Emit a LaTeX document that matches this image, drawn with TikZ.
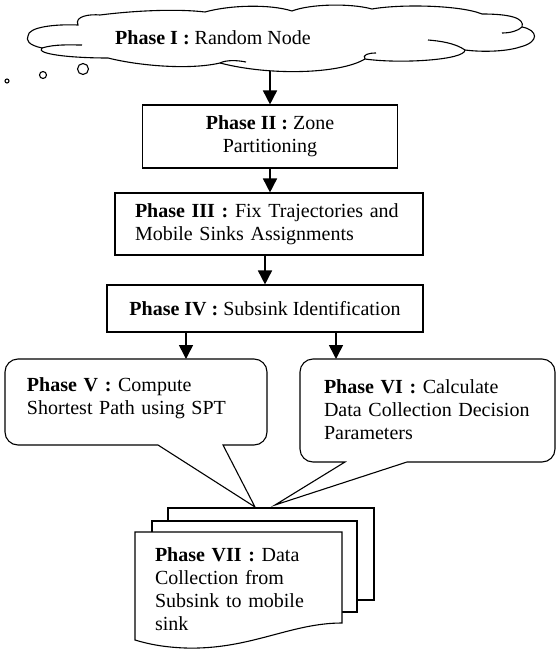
\documentclass[tikz,border=0pt]{standalone}
\usepackage{fontspec}
\setmainfont{Liberation Serif}
\usetikzlibrary{arrows.meta}

\tikzset{
  phase/.style={draw,line width=1.1pt,inner ysep=0pt},
  flow/.style={line width=1.6pt,-{Triangle[length=14pt,width=14pt]}},
  sheet/.style={draw,fill=white,line width=1.1pt}
}

\begin{document}
\begin{tikzpicture}[x=1pt,y=-1pt,font=\fontsize{20}{23}\selectfont,line width=1.1pt]
  \useasboundingbox (0,0) rectangle (557,650);
  % Phase I
  \draw (28,36) .. controls (28,27) and (55,24) .. (78,25)
    .. controls (74,16) and (90,14) .. (100,15)
    .. controls (140,10) and (180,9) .. (205,12)
    .. controls (230,5) and (270,4) .. (292,11)
    .. controls (310,4) and (350,3) .. (372,9)
    .. controls (400,4) and (460,5) .. (482,14)
    .. controls (510,14) and (525,18) .. (522,27)
    .. controls (538,30) and (540,42) .. (520,47)
    .. controls (505,52) and (480,52) .. (465,50)
    .. controls (465,60) and (400,64) .. (365,59)
    .. controls (340,74) and (270,76) .. (220,63)
    .. controls (190,70) and (140,66) .. (108,58)
    .. controls (70,58) and (35,54) .. (42,48)
    .. controls (28,45) and (26,40) .. (28,36) -- cycle;
  \draw (42,48) .. controls (55,44) and (70,45) .. (82,45);
  \draw (465,50) .. controls (455,43) and (440,41) .. (428,40);
  \draw (522,27) .. controls (518,31) and (510,33) .. (502,33);
  \draw (220,63) .. controls (226,60) and (236,60) .. (246,62);
  \draw (365,59) .. controls (362,55) and (368,53) .. (376,53);
  \coordinate (cloud) at (270,71);
  \node (p1) at (213,38) {\textbf{Phase I :} Random Node};
  \draw (83,69) circle (5.5pt);
  \draw (43,75) circle (3.5pt);
  \draw (7,81) circle (2pt);
  % Phase II - IV
  \node[phase,align=center,minimum width=255pt,minimum height=63pt] (p2) at (270,136.5) {\textbf{Phase II :} Zone\\Partitioning};
  \node[phase,align=left,text width=268pt,inner xsep=20pt,minimum height=62pt] (p3) at (269,224) {\textbf{Phase III :} Fix Trajectories and\\Mobile Sinks Assignments};
  \node[phase,align=center,minimum width=316pt,minimum height=47pt] (p4) at (265,308.5) {\textbf{Phase IV :} Subsink Identification};
  \draw[flow] (p2.north |- cloud) -- (p2.north);
  \draw[flow] (p2.south) -- (p3.north -| p2.south);
  \draw[flow] (p3.south -| p4.north) -- (p4.north);
  % Phase V and VI
  \coordinate (p5top) at (186,359);
  \coordinate (p6top) at (336,359);
  \draw (158,445) [rounded corners=13pt] -- (5,445) -- (5,359) -- (267,359) -- (267,445) [sharp corners] -- (223,445) -- (255,507) -- cycle;
  \draw (407,462) [rounded corners=13pt] -- (555,462) -- (555,359) -- (300,359) -- (300,462) [sharp corners] -- (345,462) -- (275,505) -- cycle;
  \node[align=left,text width=218pt] (p5) at (136,398) {\textbf{Phase V :} Compute\\Shortest Path using SPT};
  \node[align=left,text width=213pt] (p6) at (430.5,410) {\textbf{Phase VI :} Calculate\\Data Collection Decision\\Parameters};
  \draw[flow] (p4.south -| p5top) -- (p5top);
  \draw[flow] (p4.south -| p6top) -- (p6top);
  % Phase VII
  \draw[sheet] (168,508) rectangle (374,600);
  \draw[sheet] (152,521) rectangle (357,612);
  \draw[sheet] (135,532) -- (342,532) -- (342,623) .. controls (290,623) and (250,650) .. (185,648) .. controls (160,647) and (145,643) .. (135,640) -- cycle;
  \node[align=left,text width=175pt] (p7) at (242.5,589) {\textbf{Phase VII :} Data\\Collection from\\Subsink to mobile\\sink};
\end{tikzpicture}
\end{document}
